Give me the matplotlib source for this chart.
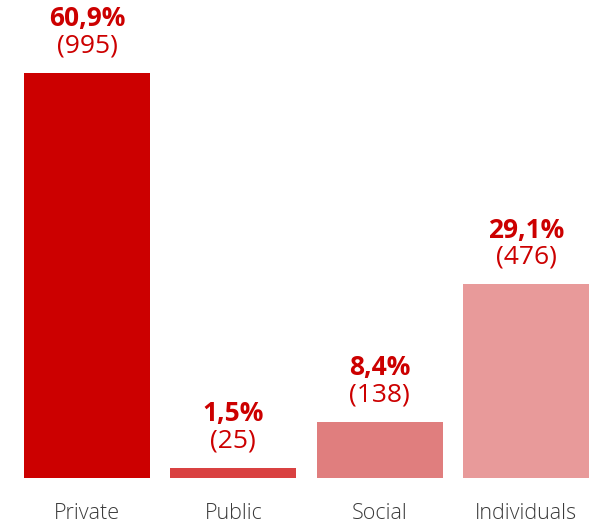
import matplotlib
matplotlib.use("Agg")
import matplotlib.pyplot as plt

plt.rcParams['font.family'] = ['Open Sans', 'DejaVu Sans']

categories = ['Private', 'Public', 'Social', 'Individuals']
shares = [60.9, 1.5, 8.4, 29.1]
counts = [995, 25, 138, 476]
share_labels = ['60,9%', '1,5%', '8,4%', '29,1%']
colors = ['#cc0000', '#d94141', '#e07e7e', '#e89a9a']
red = '#cc0000'

fig = plt.figure(figsize=(5.95, 5.24), dpi=100)
ax = fig.add_axes([24 / 595, (524 - 478) / 524, 565 / 595, 405 / 524])

x = range(len(categories))
ax.bar(x, shares, width=0.861, color=colors)
ax.set_xlim(-0.4305, 3.4305)
ax.set_ylim(0, 60.9)

# share in bold with the count in brackets just underneath
for i, (s, c, lab) in enumerate(zip(shares, counts, share_labels)):
    ax.annotate('(%d)' % c, (i, s), xytext=(0, 19.5), textcoords='offset points',
                ha='center', va='center', fontsize=19, color=red, clip_on=False)
    ax.annotate(lab, (i, s), xytext=(0, 39), textcoords='offset points',
                ha='center', va='center', fontsize=19, fontweight='bold',
                color=red, clip_on=False)

ax.set_xticks(list(x))
ax.set_xticklabels(categories, fontsize=15.5, color='#3a3a3a', fontweight='light')
ax.tick_params(axis='x', length=0, pad=18)
ax.set_yticks([])
for sp in ax.spines.values():
    sp.set_visible(False)

fig.savefig('out.png', dpi=100)
